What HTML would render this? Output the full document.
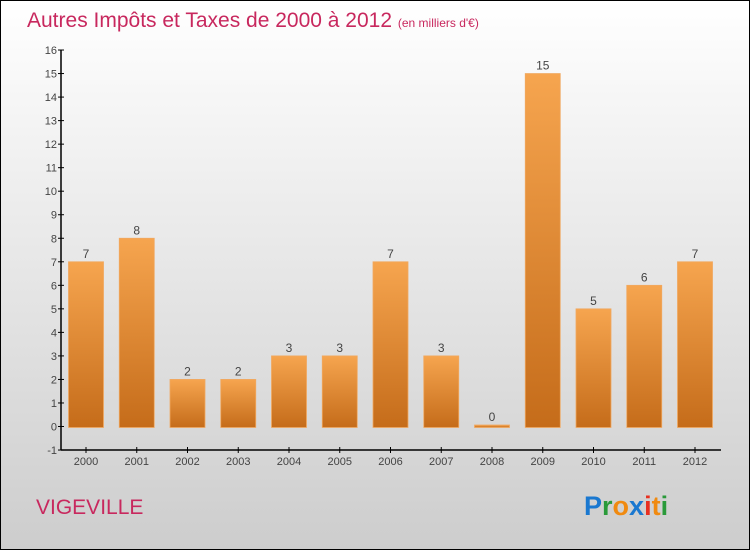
<!DOCTYPE html>
<html><head><meta charset="utf-8"><style>
html,body{margin:0;padding:0}
body{width:750px;height:550px;overflow:hidden}
svg{display:block;font-family:"Liberation Sans",sans-serif}
</style></head><body>
<svg id="c" width="750" height="550" xmlns="http://www.w3.org/2000/svg">
<defs>
<linearGradient id="bg" x1="0" y1="0" x2="0" y2="1"><stop offset="0" stop-color="#ffffff"/><stop offset="1" stop-color="#cdcdcd"/></linearGradient>
<linearGradient id="bar" x1="0" y1="0" x2="0" y2="1"><stop offset="0" stop-color="#f6a54f"/><stop offset="1" stop-color="#c56c1a"/></linearGradient>
</defs>
<rect x="0.5" y="0.5" width="749" height="549" fill="url(#bg)" stroke="#000"/>
<text x="27" y="27" font-size="21" fill="#c8285e">Autres Impôts et Taxes de 2000 à 2012 <tspan font-size="12">(en milliers d'€)</tspan></text>
<g id="plot"></g>
<text x="36" y="514" font-size="21" fill="#c8285e">VIGEVILLE</text>
<text x="584" y="515" font-size="27" font-weight="bold"><tspan fill="#1a78d0">P</tspan><tspan fill="#2a9a3a">r</tspan><tspan fill="#f08a10">o</tspan><tspan fill="#1a78d0">x</tspan><tspan fill="#e83020">i</tspan><tspan fill="#f08a10">t</tspan><tspan fill="#2a9a3a">i</tspan></text>
</svg>
<script>
const categories=["2000","2001","2002","2003","2004","2005","2006","2007","2008","2009","2010","2011","2012"];
const values=[7,8,2,2,3,3,7,3,0,15,5,6,7];
const yTicks=[-1,0,1,2,3,4,5,6,7,8,9,10,11,12,13,14,15,16];
const NS="http://www.w3.org/2000/svg";
const g=document.getElementById("plot");
const y=v=>426.5-(v)*23.53;
const x=i=>86+i*50.75;
function mk(t,a){const e=document.createElementNS(NS,t);for(const k in a)e.setAttribute(k,a[k]);g.appendChild(e);return e;}
let ax=mk("line",{x1:61,y1:50,x2:61,y2:450,stroke:"#000","stroke-width":1.5});


let bx=mk("line",{x1:61,y1:450,x2:721,y2:450,stroke:"#000","stroke-width":1.5});


yTicks.forEach(v=>{
 let t=mk("line",{x1:58,y1:y(v),x2:64,y2:y(v),stroke:"#000"});
 
 
 let l=mk("text",{x:57,y:y(v)+4,"font-size":11,"text-anchor":"end",fill:"#444"});
 l.textContent=v;
 
 
});
categories.forEach((c,i)=>{
 let t=mk("line",{x1:x(i),y1:447,x2:x(i),y2:453,stroke:"#000"});
 
 
 let l=mk("text",{x:x(i),y:465,"font-size":11,"text-anchor":"middle",fill:"#444"});
 l.textContent=c;
 
 
 const v=values[i];
 const top=Math.min(y(v),y(0)-1.5);
 let b=mk("rect",{x:x(i)-17.5,y:top,width:35,height:y(0)+1-top,fill:"url(#bar)",stroke:"#f0a860","stroke-width":0.8});
 
 
 let vl=mk("text",{x:x(i),y:top-4,"font-size":12,"text-anchor":"middle",fill:"#444"});
 vl.textContent=v;
 
 
});
</script>
</body></html>
